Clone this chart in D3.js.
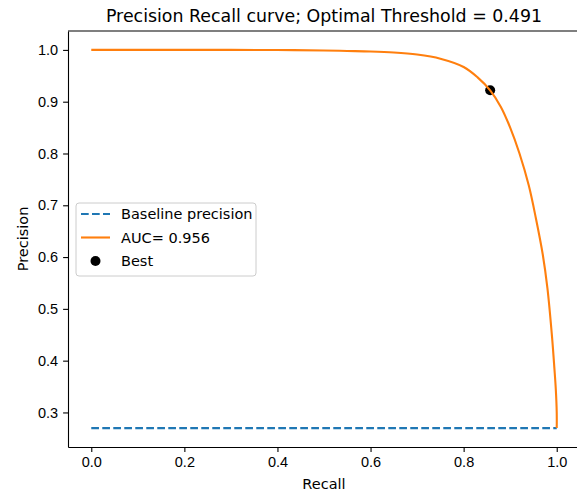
<!DOCTYPE html>
<html>
<head>
<meta charset="utf-8">
<script src="https://cdn.jsdelivr.net/npm/d3@7"></script>
<style>
  body { margin: 0; background: #fff; }
  svg { font-family: "DejaVu Sans", sans-serif; }
  .axis text { font-size: 14.5px; fill: #000; }
  .axis path, .axis line { stroke: #000; stroke-width: 1.1; }
</style>
</head>
<body>
<div id="chart"></div>
<script>
// Data
const recall    = [0, 0.1, 0.2, 0.3, 0.4, 0.5, 0.55, 0.6, 0.65, 0.7, 0.75, 0.8, 0.83, 0.857, 0.88, 0.9, 0.92, 0.94, 0.955, 0.97, 0.98, 0.99, 0.995, 0.998, 1.0, 1.0];
const precision = [1.0, 1.0, 1.0, 1.0, 0.9997, 0.999, 0.998, 0.997, 0.995, 0.991, 0.983, 0.967, 0.947, 0.922, 0.89, 0.85, 0.80, 0.738, 0.676, 0.605, 0.54, 0.445, 0.385, 0.345, 0.30, 0.2698];
const baseline = 0.2698;
const best = {recall: 0.857, precision: 0.922};
const aucLabel = "AUC= 0.956";
const threshold = "0.491";
const xTicks = [0, 0.2, 0.4, 0.6, 0.8, 1.0];
const yTicks = [0.3, 0.4, 0.5, 0.6, 0.7, 0.8, 0.9, 1.0];

// Set up dimensions and margins
const W = 577, H = 492;
const margin = {top: 31, right: -3, bottom: 45, left: 68};
const width = W - margin.left - margin.right;
const height = H - margin.top - margin.bottom;

const svg = d3.select("#chart")
    .append("svg")
    .attr("width", W)
    .attr("height", H);

const g = svg.append("g")
    .attr("transform", `translate(${margin.left},${margin.top})`);

// Scales (matplotlib style 5% padding)
const xPad = 0.05;
const yPad = (1 - baseline) * 0.05;
const x = d3.scaleLinear().domain([-xPad, 1 + xPad]).range([0, width]);
const y = d3.scaleLinear().domain([baseline - yPad, 1 + yPad]).range([height, 0]);

// Axes
g.append("g")
    .attr("class", "axis")
    .attr("transform", `translate(0,${height})`)
    .call(d3.axisBottom(x).tickValues(xTicks).tickFormat(d3.format(".1f")).tickSizeInner(4.9).tickSizeOuter(0).tickPadding(5));

g.append("g")
    .attr("class", "axis")
    .call(d3.axisLeft(y).tickValues(yTicks).tickFormat(d3.format(".1f")).tickSizeInner(4.9).tickSizeOuter(0).tickPadding(5));

// Top and right spines
g.append("line").attr("x1", 0).attr("x2", width).attr("y1", 0).attr("y2", 0)
    .attr("stroke", "#000").attr("stroke-width", 1.1);
g.append("line").attr("x1", width).attr("x2", width).attr("y1", 0).attr("y2", height)
    .attr("stroke", "#000").attr("stroke-width", 1.1);

// Baseline
g.append("line")
    .attr("x1", x(0)).attr("x2", x(1))
    .attr("y1", y(baseline)).attr("y2", y(baseline))
    .attr("stroke", "#1f77b4")
    .attr("stroke-width", 2.1)
    .attr("stroke-dasharray", "7.7,3.3");

// Best point (scatter sits under the line)
g.append("circle")
    .attr("cx", x(best.recall))
    .attr("cy", y(best.precision))
    .attr("r", 5)
    .attr("fill", "#000");

// PR curve
const line = d3.line()
    .x((d, i) => x(recall[i]))
    .y((d, i) => y(precision[i]))
    .curve(d3.curveCatmullRom.alpha(0.5));

g.append("path")
    .datum(recall)
    .attr("d", line)
    .attr("fill", "none")
    .attr("stroke", "#ff7f0e")
    .attr("stroke-width", 2.1)
    .attr("stroke-linejoin", "round");

// Title and labels
svg.append("text")
    .attr("x", margin.left + x(0.5))
    .attr("y", 22)
    .attr("text-anchor", "middle")
    .style("font-size", "17.4px")
    .text(`Precision Recall curve; Optimal Threshold = ${threshold}`);

svg.append("text")
    .attr("x", margin.left + x(0.5))
    .attr("y", 489)
    .attr("text-anchor", "middle")
    .style("font-size", "14.5px")
    .text("Recall");

svg.append("text")
    .attr("transform", `translate(28,${margin.top + height / 2}) rotate(-90)`)
    .attr("text-anchor", "middle")
    .style("font-size", "14.5px")
    .text("Precision");

// Legend
const legend = svg.append("g").attr("transform", "translate(76,203)");
legend.append("rect")
    .attr("width", 180).attr("height", 73)
    .attr("rx", 3)
    .attr("fill", "#fff").attr("fill-opacity", 0.8)
    .attr("stroke", "#ccc").attr("stroke-width", 1);

const items = [
  {label: "Baseline precision", type: "dash", color: "#1f77b4"},
  {label: aucLabel, type: "line", color: "#ff7f0e"},
  {label: "Best", type: "dot", color: "#000"}
];
items.forEach((it, i) => {
    const row = legend.append("g").attr("transform", `translate(0,${11 + i * 23.5})`);
    if (it.type === "dot") {
        row.append("circle").attr("cx", 19.5).attr("cy", 0).attr("r", 5).attr("fill", it.color);
    } else {
        row.append("line")
            .attr("x1", 5).attr("x2", 34).attr("y1", 0).attr("y2", 0)
            .attr("stroke", it.color).attr("stroke-width", 2.1)
            .attr("stroke-dasharray", it.type === "dash" ? "7.7,3.3" : null);
    }
    row.append("text")
        .attr("x", 45).attr("y", 0).attr("dy", "0.35em")
        .style("font-size", "14.5px")
        .text(it.label);
});
</script>
</body>
</html>
